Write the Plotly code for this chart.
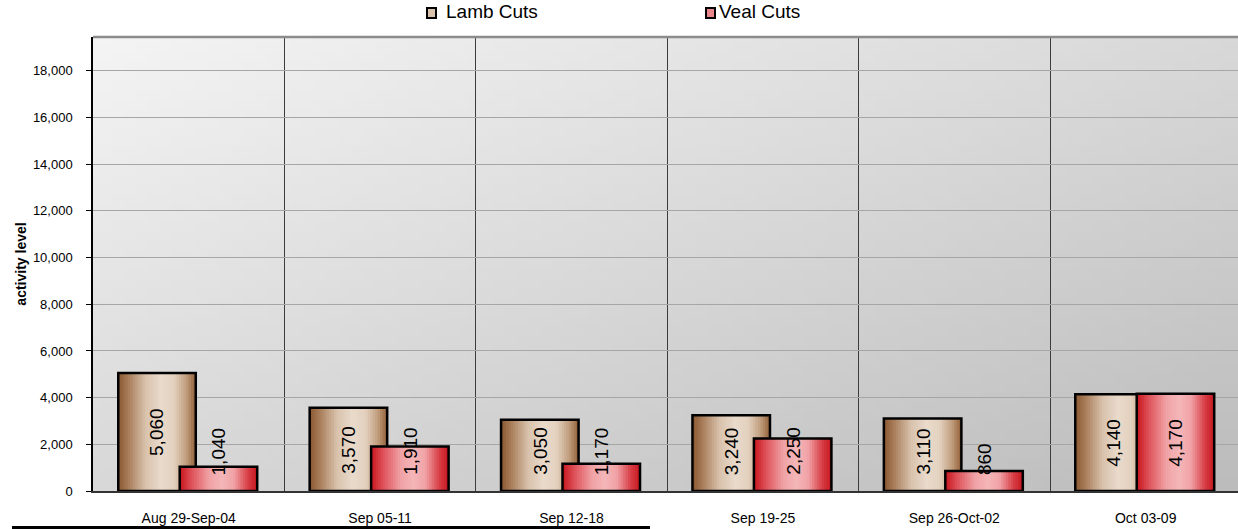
import plotly.graph_objects as go
import zlib, struct, base64

# ---------------- data ----------------
categories = ["Aug 29-Sep-04", "Sep 05-11", "Sep 12-18", "Sep 19-25", "Sep 26-Oct-02", "Oct 03-09"]
lamb_cuts = [5060, 3570, 3050, 3240, 3110, 4140]
veal_cuts = [1040, 1910, 1170, 2250, 860, 4170]
series_names = ["Lamb Cuts", "Veal Cuts"]
y_tick_values = [0, 2000, 4000, 6000, 8000, 10000, 12000, 14000, 16000, 18000]

# ---------------- style ----------------
FONT = "Liberation Sans, Arial, sans-serif"
W, H = 1238, 529
ML, MR, MT, MB = 93, 0, 37, 38
PLOT_W = W - ML - MR
PLOT_H = H - MT - MB
CAT_PX = 191.4
Y_MAX = 19450
X_RANGE = [-0.5, -0.5 + PLOT_W / CAT_PX]
PX_PER_UNIT = PLOT_H / Y_MAX

BAR_W = 0.405
OFFSETS = [-0.368, -0.047]
lamb_stops = [(0.0, "#8a5830"), (0.12, "#a67a56"), (0.35, "#d8c2ac"), (0.55, "#e9dacb"),
              (0.72, "#e3d1bf"), (0.88, "#c09c7c"), (1.0, "#925f38")]
veal_stops = [(0.0, "#c8141c"), (0.15, "#de5058"), (0.38, "#f0a2a6"), (0.55, "#f4b6b8"),
              (0.70, "#f0a2a6"), (0.88, "#d83e46"), (1.0, "#c4161e")]
legend_colors = ["#d9c3ad", "#e9868c"]
legend_swatch_px = [427, 706]   # left edge of legend squares
legend_text_px = [444, 717]     # left edge of legend texts


def hex2rgb(h):
    h = h.lstrip("#")
    return tuple(int(h[i:i + 2], 16) for i in (0, 2, 4))


def grad(stops, t):
    for (p0, c0), (p1, c1) in zip(stops[:-1], stops[1:]):
        if p0 <= t <= p1:
            f = (t - p0) / (p1 - p0) if p1 > p0 else 0
            a, b = hex2rgb(c0), hex2rgb(c1)
            return "rgb(%d,%d,%d)" % tuple(round(a[k] + (b[k] - a[k]) * f) for k in range(3))
    return stops[-1][1]


def bg_png(w, h, c0, c1):
    a, b = hex2rgb(c0), hex2rgb(c1)
    raw = bytearray()
    for j in range(h):
        raw.append(0)
        for i in range(w):
            t = (i / (w - 1)) * 0.5 + (j / (h - 1)) * 0.5
            raw.extend(bytes(round(a[k] + (b[k] - a[k]) * t) for k in range(3)))

    def chunk(tag, data):
        return struct.pack(">I", len(data)) + tag + data + struct.pack(">I", zlib.crc32(tag + data) & 0xffffffff)

    png = (b"\x89PNG\r\n\x1a\n" + chunk(b"IHDR", struct.pack(">IIBBBBB", w, h, 8, 2, 0, 0, 0))
           + chunk(b"IDAT", zlib.compress(bytes(raw))) + chunk(b"IEND", b""))
    return "data:image/png;base64," + base64.b64encode(png).decode()


def px_x(px):
    return (px - ML) / PLOT_W


def px_y(py):
    return (MT + PLOT_H - py) / PLOT_H


x_idx = list(range(len(categories)))
fig = go.Figure()

N = 32
for s, (name, vals, stops) in enumerate(zip(series_names, [lamb_cuts, veal_cuts], [lamb_stops, veal_stops])):
    off = OFFSETS[s]
    # gradient strips: each strip extends to the right edge, later strips cover earlier
    for k in range(N):
        start = off + BAR_W * k / N
        fig.add_trace(go.Bar(
            x=x_idx, y=vals, width=BAR_W - BAR_W * k / N, offset=start,
            marker=dict(color=grad(stops, (k + 0.5) / N), line=dict(width=0)),
            showlegend=False, hoverinfo="skip"))
    # outline
    fig.add_trace(go.Bar(
        x=x_idx, y=vals, width=BAR_W, offset=off, name=name,
        marker=dict(color="rgba(0,0,0,0)", line=dict(color="black", width=2.5)),
        showlegend=False, hovertemplate="%{y:,}<extra>" + name + "</extra>"))

# data labels
annotations = []
for s, vals in enumerate([lamb_cuts, veal_cuts]):
    for i, v in enumerate(vals):
        label = f"{v:,}"
        tw = sum(0.278 if ch == "," else 0.556 for ch in label) * 19
        half = tw / 2
        center_px = v / 2 * PX_PER_UNIT
        xc = i + OFFSETS[s] + BAR_W / 2
        if center_px - half < 15:
            annotations.append(dict(x=xc, y=0, yanchor="bottom", yshift=14, text=label, textangle=-90,
                                    showarrow=False, font=dict(family=FONT, size=19, color="black")))
        else:
            annotations.append(dict(x=xc, y=v / 2, yanchor="middle", text=label, textangle=-90,
                                    showarrow=False, font=dict(family=FONT, size=19, color="black")))

# legend (drawn manually so the plot area keeps its position)
shapes = []
for s, name in enumerate(series_names):
    x0 = legend_swatch_px[s]
    shapes.append(dict(type="rect", xref="paper", yref="paper",
                       x0=px_x(x0), x1=px_x(x0 + 9), y0=px_y(8), y1=px_y(18),
                       fillcolor=legend_colors[s], line=dict(color="black", width=2)))
    annotations.append(dict(xref="paper", yref="paper", x=px_x(legend_text_px[s]), y=px_y(12),
                            xanchor="left", yanchor="middle", text=name, showarrow=False,
                            font=dict(family=FONT, size=19, color="black")))

shapes += [
    dict(type="line", xref="paper", yref="paper", x0=0, x1=1, y0=1, y1=1,
         line=dict(color="#8c8c8c", width=2.5)),
    dict(type="rect", xref="paper", yref="paper",
         x0=px_x(12), x1=px_x(650), y0=px_y(526), y1=px_y(530),
         fillcolor="black", line=dict(width=0)),
]

fig.update_layout(
    width=W, height=H, autosize=False,
    margin=dict(l=ML, r=MR, t=MT, b=MB, pad=0, autoexpand=False),
    barmode="overlay",
    paper_bgcolor="white",
    plot_bgcolor="rgba(0,0,0,0)",
    font=dict(family=FONT, color="black"),
    showlegend=False,
    annotations=annotations,
    images=[dict(source=bg_png(96, 48, "#f4f4f4", "#bcbcbc"), xref="paper", yref="paper",
                 x=0, y=1, sizex=1, sizey=1, sizing="stretch", xanchor="left", yanchor="top",
                 layer="below")],
    shapes=shapes,
    xaxis=dict(
        range=X_RANGE, tickmode="array", tickvals=x_idx, ticktext=categories,
        showgrid=False, zeroline=False, showline=True, linecolor="#333333", linewidth=1.5,
        ticks="", tickfont=dict(family=FONT, size=14, color="black"), ticklabelstandoff=13,
        minor=dict(tickmode="array", tickvals=[i + 0.5 for i in x_idx], showgrid=True,
                   gridcolor="#3c3c3c", gridwidth=1, ticks=""),
        fixedrange=True, automargin=False,
    ),
    yaxis=dict(
        range=[0, Y_MAX], tickmode="array", tickvals=y_tick_values, tickformat=",",
        showgrid=True, gridcolor="#a6a6a6", gridwidth=1, zeroline=False,
        showline=True, linecolor="black", linewidth=1.5,
        ticks="outside", ticklen=5, tickcolor="black", tickwidth=1,
        tickfont=dict(family=FONT, size=13, color="black"), ticklabelstandoff=11,
        title=dict(text="<b>activity level</b>", font=dict(family=FONT, size=14, color="black"), standoff=3),
        fixedrange=True, automargin=False,
    ),
)

fig.write_html("out.html", config={"displayModeBar": False},
               post_script="document.body.style.margin='0';")
